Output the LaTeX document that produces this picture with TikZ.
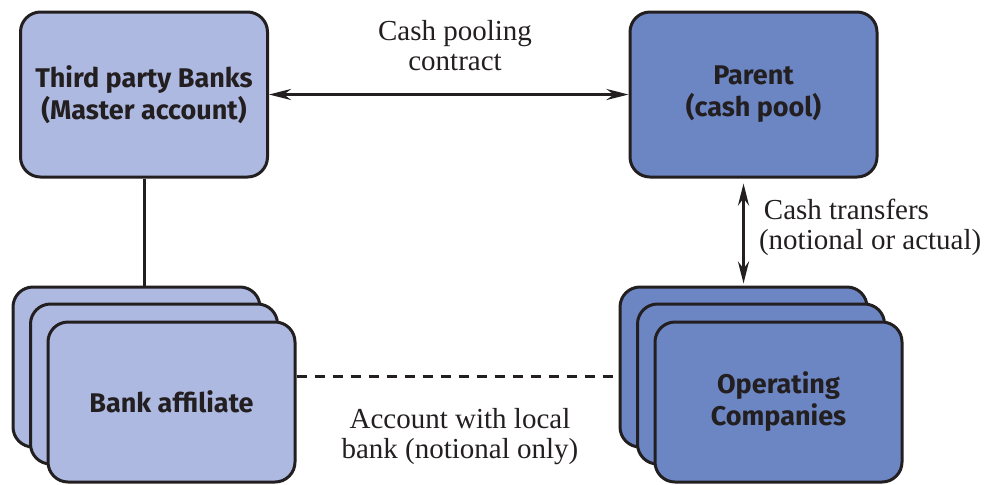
\documentclass[tikz,border=0pt]{standalone}
\usepackage{fontspec}
\setmainfont{Liberation Serif}
\newfontfamily\boxfont{Fira Sans}
\usepackage{tikz}
\usetikzlibrary{arrows.meta,positioning,calc}
\definecolor{lightblue}{RGB}{173,185,224}
\definecolor{darkblue}{RGB}{108,134,196}
\definecolor{edge}{RGB}{35,31,32}
\tikzset{
  box/.style = {draw = edge, line width = 1.5pt, rounded corners = 10pt,
    minimum width = 123.5pt, minimum height = 80pt, align = center,
    font = \boxfont\bfseries\fontsize{13.5}{16}\selectfont, text = edge},
  tall/.style = {minimum height = 82.5pt},
  lbl/.style = {align = center, font = \fontsize{14.5}{15}\selectfont, text = edge},
  link/.style = {line width = 1.5pt, draw = edge},
  >={Stealth[length = 11pt, width = 5.5pt]}
}
\begin{document}
\begin{tikzpicture}[x = 0.5pt, y = -0.5pt]
    \useasboundingbox (0,0) rectangle (989,484);
    \node[box, tall, fill = lightblue] (banks) at (144,94.5) {Third party Banks\\(Master account)};
    \node[box, tall, fill = darkblue] (parent) at (753.5,94.5) {Parent\\(cash pool)};
    % stacked affiliates
    \node[box, fill = lightblue] (bab) at (136.5,367) {};
    \node[box, fill = lightblue] (bam) at (154,384) {};
    \node[box, fill = lightblue] (baf) at (171.5,402) {Bank affiliate};
    \node[box, fill = darkblue] (opb) at (743.5,367) {};
    \node[box, fill = darkblue] (opm) at (761,384) {};
    \node[box, fill = darkblue] (opf) at (778.5,402) {Operating\\Companies};
    \draw[<->, link] (banks) -- (parent);
    \draw[<->, link, shorten <= 2.5pt, shorten >= 1pt] (opb.north |- parent.south) -- (opb.north);
    \draw[link] (banks.south) -- (banks.south |- bab.north);
    \draw[link, dash pattern = on 5pt off 4pt] ([yshift = 13pt]baf.east) -- ([yshift = 13pt]baf.east -| opb.west);
    \node[lbl] (pool) at (455,46) {Cash pooling\\contract};
    \node[lbl, align = left, anchor = west] (xfer) at (752,227) {\,Cash transfers\\(notional or actual)};
    \node[lbl] (local) at (460,437) {Account with local\\bank (notional only)};
  \end{tikzpicture}
\end{document}
